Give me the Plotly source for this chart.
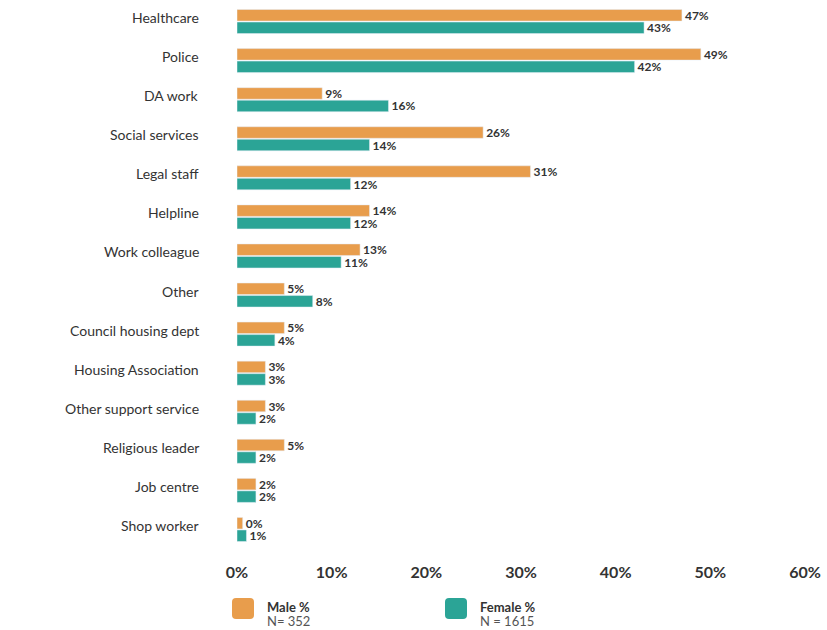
import plotly.graph_objects as go

categories = ["Healthcare", "Police", "DA work", "Social services", "Legal staff",
              "Helpline", "Work colleague", "Other", "Council housing dept",
              "Housing Association", "Other support service", "Religious leader",
              "Job centre", "Shop worker"]
male = [47, 49, 9, 26, 31, 14, 13, 5, 5, 3, 3, 5, 2, 0.6]
male_text = ["47%", "49%", "9%", "26%", "31%", "14%", "13%", "5%", "5%", "3%", "3%", "5%", "2%", "0%"]
female = [43, 42, 16, 14, 12, 12, 11, 8, 4, 3, 2, 2, 2, 1]
female_text = [f"{v}%" for v in female]

ORANGE = "#E89D4C"
TEAL = "#2BA496"
FONT = "Lato"
W, H, L, R, T, B = 827, 630, 237, 22, 2, 81

fig = go.Figure()
for name, vals, txt, col in [("Male %", male, male_text, ORANGE),
                             ("Female %", female, female_text, TEAL)]:
    fig.add_trace(go.Bar(
        y=categories, x=vals, orientation="h", name=name, marker_color=col,
        text=txt, textposition="outside", cliponaxis=False, constraintext="none",
        textfont=dict(family=FONT, size=12, color="#333333", weight="bold"),
    ))

# category labels sit beside the upper (male) bar
for c in categories:
    fig.add_annotation(x=0, y=c, xref="x", yref="y", text=c, showarrow=False,
                       xanchor="right", xshift=-36, yshift=4,
                       font=dict(family=FONT, size=14, color="#333333"))

# legend, placed in pixels below the plot area
def px_x(px):
    return (px - L) / (W - L - R)

def px_y(py):
    return (H - B - py) / (H - T - B)

def rounded_rect(x0, y0, x1, y1, r=4):
    return (f"M{px_x(x0 + r)},{px_y(y0)} L{px_x(x1 - r)},{px_y(y0)} "
            f"Q{px_x(x1)},{px_y(y0)} {px_x(x1)},{px_y(y0 + r)} "
            f"L{px_x(x1)},{px_y(y1 - r)} Q{px_x(x1)},{px_y(y1)} {px_x(x1 - r)},{px_y(y1)} "
            f"L{px_x(x0 + r)},{px_y(y1)} Q{px_x(x0)},{px_y(y1)} {px_x(x0)},{px_y(y1 - r)} "
            f"L{px_x(x0)},{px_y(y0 + r)} Q{px_x(x0)},{px_y(y0)} {px_x(x0 + r)},{px_y(y0)} Z")

for x0, title, n, col in [(232, "Male %", "N= 352", ORANGE),
                          (418 + 27, "Female %", "N = 1615", TEAL)]:
    fig.add_shape(type="path", xref="paper", yref="paper",
                  path=rounded_rect(x0, 598, x0 + 22, 619),
                  fillcolor=col, line_width=0, layer="above")
    fig.add_annotation(xref="paper", yref="paper", x=px_x(x0 + 33), y=px_y(597),
                       text=f"<b>{title}</b>", showarrow=False, xanchor="left",
                       yanchor="top", font=dict(family=FONT, size=13, color="#333333"))
    fig.add_annotation(xref="paper", yref="paper", x=px_x(x0 + 33), y=px_y(611),
                       text=n, showarrow=False, xanchor="left", yanchor="top",
                       font=dict(family=FONT, size=13, color="#555555"))

fig.update_layout(
    width=W, height=H, barmode="group", bargap=0.36, bargroupgap=0.08,
    showlegend=False, plot_bgcolor="white", paper_bgcolor="white",
    margin=dict(l=L, r=R, t=T, b=B, autoexpand=False),
    xaxis=dict(range=[0, 60], dtick=10, ticksuffix="%", showgrid=False,
               zeroline=False, showline=False, ticklabelstandoff=12, automargin=False,
               tickfont=dict(family=FONT, size=16, color="#333333", weight="bold")),
    yaxis=dict(autorange="reversed", showticklabels=False, showgrid=False,
               automargin=False),
)
fig.write_html("out.html", config={"displayModeBar": False},
               post_script="document.body.style.margin='0';")
